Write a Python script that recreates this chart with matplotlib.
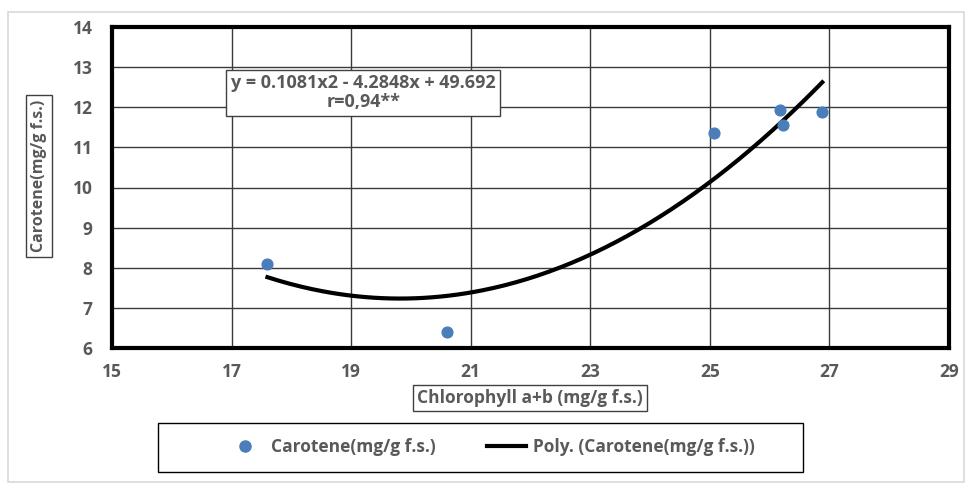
import numpy as np
from matplotlib import pyplot as plt
from matplotlib.lines import Line2D

plt.rcParams['font.family'] = ['Open Sans', 'DejaVu Sans']

# data
chl = [17.6, 20.6, 25.07, 26.17, 26.22, 26.88]
car = [8.1, 6.4, 11.37, 11.92, 11.55, 11.88]

# trendline coefficients shown on the chart (y = a x^2 + b x + c)
poly_coef = [0.1081, -4.2848, 49.692]

xticks = [15, 17, 19, 21, 23, 25, 27, 29]
yticks = [6, 7, 8, 9, 10, 11, 12, 13, 14]

txt_col = '#595959'

fig = plt.figure(figsize=(9.72, 4.84), dpi=100)
ax = fig.add_axes([112/972, 1-348/484, (949-112)/972, (348-27)/484])

# outer frame of the whole chart
fig.patches.append(plt.Rectangle((8/972, 0.005), 1-16/972, 1-12/484-0.005,
                                 transform=fig.transFigure, fill=False,
                                 edgecolor='#d9d9d9', lw=1.2))
# legend frame (wider than its entries, as in the original)
fig.patches.append(plt.Rectangle((158/972, 1-472/484), 645/972, 49/484,
                                 transform=fig.transFigure, fill=False,
                                 edgecolor='black', lw=1))

ax.set_xlim(15, 29)
ax.set_ylim(6, 14)
ax.set_xticks(xticks)
ax.set_yticks(yticks)
ax.grid(True, color='#3a3a3a', lw=1.0)
ax.set_axisbelow(True)
for s in ax.spines.values():
    s.set_linewidth(3)
    s.set_color('black')
ax.tick_params(length=0, labelsize=12.5, labelcolor=txt_col, pad=14)
for lab in ax.get_xticklabels() + ax.get_yticklabels():
    lab.set_fontweight('bold')
ax.tick_params(axis='x', pad=11)

xs = np.linspace(min(chl), max(chl), 200)
ax.plot(xs, np.polyval(poly_coef, xs), color='black', lw=3, zorder=3)
ax.scatter(chl, car, s=60, color='#4a7ebb', zorder=4)

ax.text(0.3, 0.795, 'y = 0.1081x2 - 4.2848x + 49.692\nr=0,94**',
        transform=ax.transAxes, ha='center', va='center', fontsize=13,
        fontweight='bold', color=txt_col, linespacing=1.05,
        bbox=dict(boxstyle='square,pad=0.25', fc='white', ec='#404040', lw=1))

fig.text(39/972, 1-176/484, 'Carotene(mg/g f.s.)', rotation=90, ha='center',
         va='center', fontsize=11.5, fontweight='bold', color=txt_col,
         bbox=dict(boxstyle='square,pad=0.3', fc='white', ec='#404040', lw=1))
fig.text(530/972, 1-398/484, 'Chlorophyll a+b (mg/g f.s.)', ha='center',
         va='center', fontsize=12.5, fontweight='bold', color=txt_col,
         bbox=dict(boxstyle='square,pad=0.25', fc='white', ec='#404040', lw=1))

handles = [Line2D([], [], marker='o', ls='none', color='#4a7ebb', markersize=8),
           Line2D([], [], color='black', lw=3)]
leg = fig.legend(handles, ['Carotene(mg/g f.s.)', 'Poly. (Carotene(mg/g f.s.))'],
                 loc='center', bbox_to_anchor=(490/972, 1-447/484), ncol=2,
                 frameon=False, prop={'weight': 'bold', 'size': 12.5},
                 columnspacing=3.0, borderpad=0, handlelength=2.2,
                 handletextpad=0.4, borderaxespad=0)
for t in leg.get_texts():
    t.set_color(txt_col)

fig.savefig('out.png', dpi=100)
